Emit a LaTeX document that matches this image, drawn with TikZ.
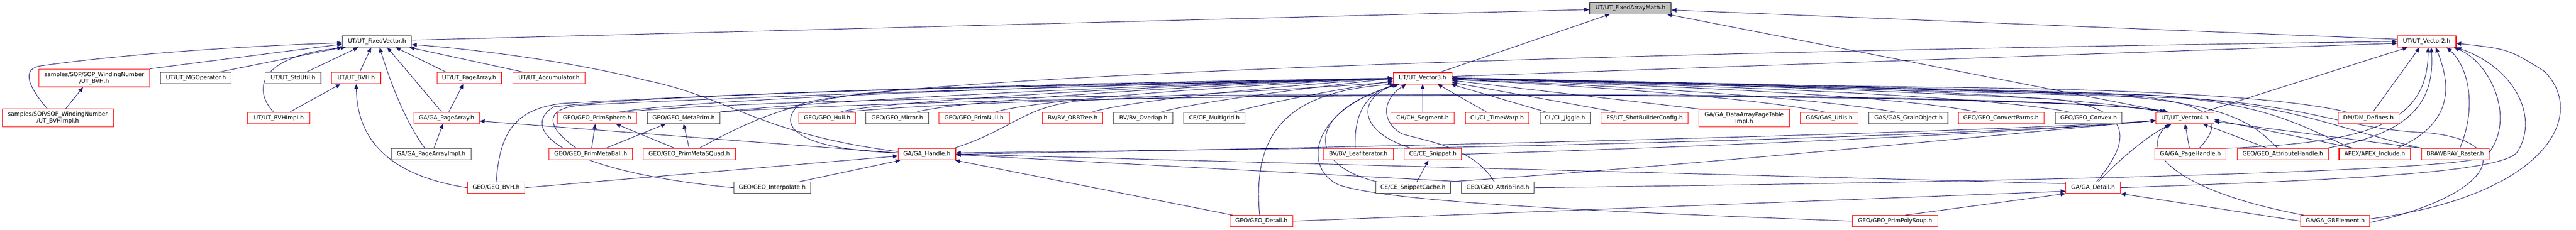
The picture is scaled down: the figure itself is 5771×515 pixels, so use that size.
\documentclass[tikz,border=0pt]{standalone}
\usepackage{fontspec}
\setmainfont{DejaVu Sans}
\usetikzlibrary{arrows.meta}
\definecolor{mblue}{RGB}{25,25,112}
\definecolor{rootgray}{RGB}{191,191,191}
\newcommand{\nodefont}{\fontsize{12.8}{15}\selectfont}
\pgfdeclarelayer{bg}
\pgfsetlayers{bg,main}
\begin{document}
\begin{tikzpicture}[x=1pt,y=-1pt,
  basebox/.style={line width=1.3pt, inner sep=0pt, minimum height=25.5pt, font=\nodefont, align=center, fill=white},
  redbox/.style={basebox, draw=red},
  blkbox/.style={basebox, draw=black!75},
  rootbox/.style={basebox, draw=black, fill=rootgray},
  edg/.style={draw=mblue, line width=1.1pt, -{Triangle[length=11pt,width=9pt]}}]
\useasboundingbox (0,0) rectangle (5771,515);
% rank 0-1
\node[rootbox, minimum width=183pt] (fam) at (3652.5,18.5) {UT/UT\_FixedArrayMath.h};
\node[blkbox, minimum width=155pt] (fv) at (844.5,93) {UT/UT\_FixedVector.h};
\node[redbox, minimum width=131pt] (v2) at (5436.5,93) {UT/UT\_Vector2.h};
% rank 2
\node[redbox, minimum width=248pt, minimum height=40pt] (sbvh) at (211,175) {samples/SOP/SOP\_WindingNumber\\/UT\_BVH.h};
\node[blkbox, minimum width=158pt] (mgo) at (439,175) {UT/UT\_MGOperator.h};
\node[blkbox, minimum width=125pt] (std) at (656.5,175) {UT/UT\_StdUtil.h};
\node[redbox, minimum width=110pt] (ubvh) at (798,175) {UT/UT\_BVH.h};
\node[redbox, minimum width=144pt] (upa) at (1051,175) {UT/UT\_PageArray.h};
\node[redbox, minimum width=162pt] (acc) at (1230,175) {UT/UT\_Accumulator.h};
\node[redbox, minimum width=132pt] (v3) at (3187,175.5) {UT/UT\_Vector3.h};
% rank 3
\node[redbox, minimum width=249pt, minimum height=41pt] (sbvhi) at (129.5,264.5) {samples/SOP/SOP\_WindingNumber\\/UT\_BVHImpl.h};
\node[redbox, minimum width=139pt] (bvhi) at (624.5,264.5) {UT/UT\_BVHImpl.h};
\node[redbox, minimum width=147pt] (gpa) at (1000.5,264.5) {GA/GA\_PageArray.h};
\node[redbox, minimum width=177pt] (sph) at (1337.5,264.5) {GEO/GEO\_PrimSphere.h};
\node[blkbox, minimum width=163pt] (mp) at (1531.5,264.5) {GEO/GEO\_MetaPrim.h};
\node[redbox, minimum width=126pt] (hull) at (1853,264.5) {GEO/GEO\_Hull.h};
\node[blkbox, minimum width=140pt] (mir) at (2010,264.5) {GEO/GEO\_Mirror.h};
\node[redbox, minimum width=158pt] (pnull) at (2182,264.5) {GEO/GEO\_PrimNull.h};
\node[redbox, minimum width=136pt] (obb) at (2403,264.5) {BV/BV\_OBBTree.h};
\node[blkbox, minimum width=133pt] (ovl) at (2561.5,264.5) {BV/BV\_Overlap.h};
\node[blkbox, minimum width=137pt] (mg) at (2720.5,264.5) {CE/CE\_Multigrid.h};
\node[redbox, minimum width=142pt] (seg) at (3187,264.5) {CH/CH\_Segment.h};
\node[redbox, minimum width=142pt] (tw) at (3354,264.5) {CL/CL\_TimeWarp.h};
\node[blkbox, minimum width=112pt] (jig) at (3506,264.5) {CL/CL\_Jiggle.h};
\node[redbox, minimum width=195pt] (shot) at (3684.5,264.5) {FS/UT\_ShotBuilderConfig.h};
\node[redbox, minimum width=203pt, minimum height=40pt] (dapt) at (3907.5,265) {GA/GA\_DataArrayPageTable\\Impl.h};
\node[redbox, minimum width=130pt] (gasu) at (4098,264.5) {GAS/GAS\_Utils.h};
\node[blkbox, minimum width=177pt] (grain) at (4275.5,264.5) {GAS/GAS\_GrainObject.h};
\node[redbox, minimum width=192pt] (cvp) at (4483,264.5) {GEO/GEO\_ConvertParms.h};
\node[blkbox, minimum width=150pt] (cvx) at (4679,264.5) {GEO/GEO\_Convex.h};
\node[redbox, minimum width=130pt] (v4) at (4895,264.5) {UT/UT\_Vector4.h};
\node[redbox, minimum width=136pt] (dm) at (5306,264.5) {DM/DM\_Defines.h};
% rank 4
\node[blkbox, minimum width=178pt] (gpai) at (966,346) {GA/GA\_PageArrayImpl.h};
\node[redbox, minimum width=187pt] (mball) at (1323.5,346) {GEO/GEO\_PrimMetaBall.h};
\node[redbox, minimum width=206pt] (msq) at (1544,346) {GEO/GEO\_PrimMetaSQuad.h};
\node[redbox, minimum width=129pt] (gah) at (2076.5,346) {GA/GA\_Handle.h};
\node[redbox, minimum width=156pt] (leaf) at (3043,346) {BV/BV\_LeafIterator.h};
\node[redbox, minimum width=128pt] (snip) at (3210,346) {CE/CE\_Snippet.h};
\node[redbox, minimum width=160pt] (ph) at (4907,346) {GA/GA\_PageHandle.h};
\node[redbox, minimum width=204pt] (ath) at (5114,346) {GEO/GEO\_AttributeHandle.h};
\node[redbox, minimum width=160pt] (apex) at (5320,346) {APEX/APEX\_Include.h};
\node[redbox, minimum width=151pt] (bray) at (5500.5,346) {BRAY/BRAY\_Raster.h};
% rank 5
\node[redbox, minimum width=129pt] (gbvh) at (1111.5,421) {GEO/GEO\_BVH.h};
\node[blkbox, minimum width=172pt] (interp) at (1730,421) {GEO/GEO\_Interpolate.h};
\node[blkbox, minimum width=167pt] (scache) at (3165.5,421) {CE/CE\_SnippetCache.h};
\node[blkbox, minimum width=163pt] (afind) at (3355.5,421) {GEO/GEO\_AttribFind.h};
\node[redbox, minimum width=122pt] (gad) at (4689,421) {GA/GA\_Detail.h};
% rank 6
\node[redbox, minimum width=140pt] (gdet) at (2826,496) {GEO/GEO\_Detail.h};
\node[redbox, minimum width=191pt] (soup) at (4245.5,496) {GEO/GEO\_PrimPolySoup.h};
\node[redbox, minimum width=155pt] (gbe) at (5231.5,496) {GA/GA\_GBElement.h};

\begin{pgfonlayer}{bg}
\fill[white] (0,0) rectangle (5771,515);
% to FixedArrayMath
\draw[edg] ([yshift=3pt]fv.east) -- ([yshift=-3pt]fam.west);
\draw[edg] ([xshift=39pt]v3.north) -- ([xshift=-46pt]fam.south);
\draw[edg] ([yshift=5pt]v2.west) -- ([yshift=-4pt]fam.east);
\draw[edg] ([xshift=-40pt]v4.north) -- ([xshift=82pt]fam.south);
% to Vector2
\draw[edg] ([yshift=4pt]v3.east) -- ([yshift=-4pt]v2.west);
\draw[edg] ([xshift=42pt]v4.north) -- ([xshift=-43pt]v2.south);
\draw[edg] ([xshift=10pt]dm.north) -- ([xshift=-16pt]v2.south);
\draw[edg] (ph.north east) .. controls (5300,320) and (5440,280) .. ([xshift=3pt]v2.south);
\draw[edg] ([xshift=-6pt]ath.north east) .. controls (5400,300) and (5455,230) .. ([xshift=10pt]v2.south);
\draw[edg] ([xshift=50pt]apex.north) .. controls (5490,280) and (5495,200) .. ([xshift=20pt]v2.south);
\draw[edg] ([xshift=10pt]bray.north) .. controls (5550,240) and (5530,150) .. ([xshift=45pt]v2.south);
\draw[edg] (gad.east) .. controls (5200,405) and (5610,390) .. (5640,340) .. controls (5690,260) and (5630,150) .. (v2.south east);
\draw[edg] (afind.east) .. controls (4500,408) and (5530,385) .. (5570,350) .. controls (5640,270) and (5580,140) .. ([xshift=-5pt]v2.south east);
\draw[edg] ([yshift=5pt]gbe.east) .. controls (5700,440) and (5800,260) .. (5700,160) .. controls (5620,110) .. ([yshift=-4pt]v2.east);
\draw[edg] ([yshift=3pt]gah.west) .. controls (1780,335) and (1740,280) .. (1790,235) .. controls (1900,190) and (3000,125) .. (v2.west);
% to Vector3, left side
\draw[edg] ([xshift=50pt]sph.north) .. controls (1550,225) and (2200,195) .. ([yshift=-2pt]v3.west);
\draw[edg] (mp.north east) .. controls (1900,220) and (2600,190) .. (v3.west);
\draw[edg] ([xshift=30pt]hull.north) .. controls (1950,230) and (2600,190) .. (v3.west);
\draw[edg] ([xshift=44pt]mir.north) .. controls (2150,225) and (2700,190) .. (v3.west);
\draw[edg] ([xshift=48pt]pnull.north) .. controls (2330,222) and (2800,190) .. (v3.west);
\draw[edg] ([xshift=44pt]obb.north) .. controls (2550,222) and (2900,190) .. (v3.west);
\draw[edg] ([xshift=40pt]ovl.north) .. controls (2700,225) and (2950,195) .. (v3.west);
\draw[edg] ([xshift=44pt]mg.north) .. controls (2850,228) and (3000,200) .. ([yshift=-6pt]v3.west);
\draw[edg] ([xshift=-32pt]mball.north) .. controls (1230,290) and (1210,245) .. (1300,236) .. controls (1900,205) and (2800,185) .. (v3.west);
\draw[edg] ([xshift=22pt]msq.north) .. controls (1700,260) and (1800,215) .. (2050,200) .. controls (2600,188) .. (v3.west);
\draw[edg] (gbvh.north) .. controls (1120,300) and (1150,245) .. (1260,232) .. controls (1900,195) and (2800,180) .. (v3.west);
\draw[edg] (interp.west) .. controls (1260,385) and (1160,290) .. (1240,240) .. controls (1500,205) and (2800,182) .. (v3.west);
\draw[edg] ([xshift=-5pt]gah.north east) .. controls (2270,290) and (2290,240) .. (2420,226) .. controls (2700,210) and (3000,195) .. ([yshift=-8pt]v3.west);
\draw[edg] ([xshift=-4pt]gdet.north) .. controls (2805,300) and (2880,205) .. ([xshift=4pt]v3.south west);
\draw[edg] ([xshift=-7pt]leaf.north) .. controls (3033,255) and (3060,210) .. ([xshift=8pt]v3.south west);
\draw[edg] ([xshift=-48pt]snip.north) .. controls (3040,295) and (3040,220) .. ([xshift=10pt]v3.south west);
\draw[edg] ([xshift=3pt]scache.north west) .. controls (2925,370) and (2925,250) .. ([xshift=14pt]v3.south west);
\draw[edg] ([xshift=-8pt]afind.north) .. controls (3300,330) and (3200,318) .. (3140,300) .. controls (3090,270) and (3100,220) .. ([xshift=30pt]v3.south west);
\draw[edg] (soup.west) .. controls (3600,475) and (3120,455) .. (3000,415) .. controls (2920,380) and (2930,250) .. ([xshift=12pt]v3.south west);
\draw[edg] (seg.north) -- (v3.south);
% to Vector3, right side
\draw[edg] ([xshift=-24pt]tw.north) -- ([xshift=-33pt]v3.south east);
\draw[edg] ([xshift=-43pt]jig.north) -- ([xshift=-3pt]v3.south east);
\draw[edg] ([xshift=-65pt]shot.north) -- ([yshift=4pt]v3.south east);
\draw[edg] (dapt.north west) -- ([yshift=-5pt]v3.east);
\draw[edg] ([xshift=-10pt]gasu.north) .. controls (3900,215) and (3500,190) .. ([yshift=-3pt]v3.east);
\draw[edg] ([xshift=-30pt]grain.north) .. controls (4000,210) and (3500,188) .. ([yshift=-2pt]v3.east);
\draw[edg] ([xshift=-55pt]cvp.north) .. controls (4200,205) and (3500,186) .. (v3.east);
\draw[edg] ([xshift=-44pt]cvx.north) .. controls (4400,205) and (3500,184) .. (v3.east);
\draw[edg] ([xshift=-55pt]v4.north) .. controls (4600,200) and (3600,182) .. (v3.east);
\draw[edg] ([xshift=20pt]ph.north) .. controls (4990,265) and (4960,225) .. (4700,208) .. controls (4000,190) .. ([yshift=1pt]v3.east);
\draw[edg] ([xshift=-11pt]ath.north) .. controls (5050,280) and (5000,230) .. (4700,212) .. controls (4000,192) .. (v3.east);
\draw[edg] ([xshift=-52pt]apex.north) .. controls (5150,280) and (5080,230) .. (4800,212) .. controls (4000,192) .. (v3.east);
\draw[edg] ([xshift=-75pt]bray.north) .. controls (5220,285) and (5160,240) .. (4850,215) .. controls (4000,192) .. (v3.east);
\draw[edg] ([xshift=-50pt]dm.north) .. controls (5150,225) and (4900,205) .. (4500,198) .. controls (3800,188) .. (v3.east);
\draw[edg] ([xshift=8pt]gad.north) .. controls (4770,320) and (4790,245) .. (4600,222) .. controls (4000,195) .. (v3.east);
\draw[edg] ([yshift=-3pt]gbe.east) .. controls (5580,440) and (5650,320) .. (5440,298) .. controls (5250,290) and (5200,240) .. (4900,220) .. controls (4000,195) .. (v3.east);
% to Vector4
\draw[edg] ([xshift=-2pt]ph.north) -- (v4.south);
\draw[edg] ([xshift=-34pt]ath.north) -- ([xshift=40pt]v4.south);
\draw[edg] ([xshift=-45pt]apex.north) -- ([yshift=-4pt]v4.east);
\draw[edg] (bray.north west) -- ([yshift=-8pt]v4.east);
\draw[edg] ([xshift=12pt]gad.north) .. controls (4760,345) and (4820,300) .. ([xshift=-30pt]v4.south);
\draw[edg] ([xshift=-70pt]gbe.north) .. controls (4880,430) and (4790,340) .. ([xshift=-35pt]v4.south);
\draw[edg] (leaf.north east) .. controls (3600,325) and (4500,300) .. ([yshift=-6pt]v4.west);
\draw[edg] (snip.east) .. controls (3800,330) and (4500,300) .. ([yshift=-6pt]v4.west);
\draw[edg] (scache.north east) .. controls (3800,370) and (4500,300) .. ([yshift=-6pt]v4.west);
\draw[edg] (gah.east) .. controls (3000,332) and (4400,300) .. ([yshift=-6pt]v4.west);
\draw[edg] ([xshift=40pt]hull.north) .. controls (2500,195) and (4600,205) .. ([xshift=-45pt]v4.north);
\draw[edg] (mp.north east) .. controls (2400,200) and (4600,205) .. ([xshift=-40pt]v4.north);
\draw[edg] ([xshift=60pt]sph.north) .. controls (2000,195) and (4600,205) .. ([xshift=-38pt]v4.north);
% to FixedVector
\draw[edg] (sbvh.north east) -- ([yshift=-6pt]fv.west);
\draw[edg] ([xshift=-24pt]sbvhi.north) .. controls (60,190) and (50,155) .. (90,148) .. controls (250,125) and (500,105) .. ([yshift=-3pt]fv.west);
\draw[edg] ([xshift=52pt]mgo.north) -- (fv.south west);
\draw[edg] ([xshift=-12pt]bvhi.north) .. controls (565,200) and (580,125) .. ([xshift=8pt]fv.south west);
\draw[edg] ([xshift=30pt]std.north) -- ([xshift=36pt]fv.south west);
\draw[edg] ([xshift=8pt]ubvh.north) -- ([xshift=-13pt]fv.south);
\draw[edg] ([xshift=-14pt]gpai.north) .. controls (905,270) and (870,170) .. ([xshift=6pt]fv.south);
\draw[edg] ([xshift=-11pt]gpa.north) -- ([xshift=23pt]fv.south);
\draw[edg] ([xshift=-52pt]upa.north) -- ([xshift=42pt]fv.south);
\draw[edg] ([xshift=-58pt]acc.north) -- ([xshift=-5pt]fv.south east);
\draw[edg] ([yshift=6pt]gah.west) .. controls (1700,300) and (1640,220) .. (1446,180) .. controls (1250,130) and (1000,105) .. ([yshift=-7pt]fv.east);
% misc
\draw[edg] ([xshift=18pt]sbvhi.north) -- ([xshift=-25pt]sbvh.south);
\draw[edg] ([xshift=25pt]bvhi.north) -- ([xshift=-35pt]ubvh.south);
\draw[edg] ([xshift=6pt]gpai.north) -- ([xshift=-8pt]gpa.south);
\draw[edg] ([xshift=5pt]gpa.north) -- ([xshift=-13pt]upa.south);
\draw[edg] ([yshift=3pt]gah.west) -- ([yshift=-7pt]gpa.east);
\draw[edg] (gbvh.west) .. controls (880,395) and (800,320) .. (ubvh.south);
\draw[edg] ([xshift=2pt]mball.north) -- ([xshift=-4pt]sph.south);
\draw[edg] ([xshift=33pt]mball.north) -- ([xshift=-40pt]mp.south);
\draw[edg] ([xshift=-32pt]msq.north) -- ([xshift=42pt]sph.south);
\draw[edg] (msq.north) -- (mp.south);
\draw[edg] (gbvh.east) -- ([yshift=-4pt]gah.west);
\draw[edg] ([xshift=61pt]interp.north) -- ([xshift=6pt]gah.south west);
\draw[edg] ([xshift=-64pt]gdet.north) -- ([xshift=-2pt]gah.south east);
\draw[edg] (leaf.north west) -- ([yshift=3pt]gah.east);
\draw[edg] (afind.north west) -- ([yshift=-1pt]gah.east);
\draw[edg] ([yshift=9pt]gad.west) -- (gah.east);
\draw[edg] ([xshift=9pt]scache.north) -- ([xshift=-10pt]snip.south);
\draw[edg] (gdet.east) -- ([yshift=-8pt]gad.west);
\draw[edg] ([xshift=22pt]soup.north) -- (gad.south west);
\draw[edg] (gbe.west) -- (gad.south east);
\end{pgfonlayer}
\end{tikzpicture}
\end{document}
